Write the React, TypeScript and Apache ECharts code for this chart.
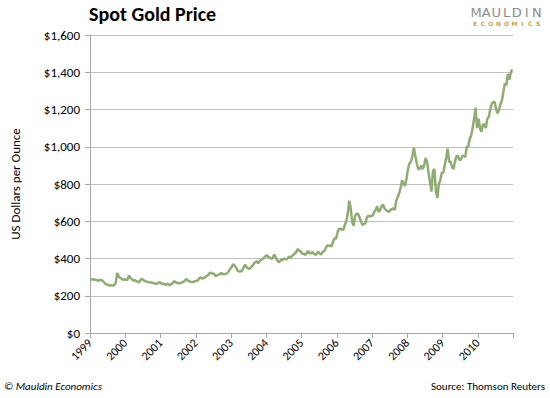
import React, { useEffect, useRef } from "react";
import * as echarts from "echarts";

const startYear = 1999;
const endYear = 2011;
const yTicks = [0, 200, 400, 600, 800, 1000, 1200, 1400, 1600];
// Semi-monthly spot gold prices (USD/oz)
const prices1999 = [288, 287, 289, 286, 285, 281, 283, 286, 280, 273, 263, 261, 257, 255, 257, 254, 258, 268, 322, 305, 296, 292, 285, 289];
const prices2000 = [286, 285, 310, 296, 289, 281, 284, 278, 276, 272, 286, 290, 283, 279, 276, 274, 273, 271, 270, 266, 266, 265, 270, 272];
const prices2001 = [266, 264, 262, 258, 265, 260, 258, 262, 270, 278, 271, 270, 267, 267, 272, 274, 281, 290, 283, 278, 275, 273, 275, 278];
const prices2002 = [280, 283, 295, 298, 292, 295, 302, 306, 312, 322, 323, 318, 318, 305, 310, 312, 318, 322, 316, 315, 318, 320, 332, 345];
const prices2003 = [356, 370, 360, 352, 335, 330, 330, 335, 350, 366, 355, 347, 345, 352, 360, 372, 380, 385, 375, 385, 392, 398, 405, 413];
const prices2004 = [418, 405, 406, 398, 405, 422, 405, 390, 380, 387, 393, 395, 400, 395, 400, 410, 405, 413, 420, 428, 435, 452, 440, 440];
const prices2005 = [425, 425, 420, 428, 440, 428, 428, 435, 425, 420, 428, 437, 425, 422, 437, 440, 455, 470, 470, 470, 465, 490, 510, 505];
const prices2006 = [540, 560, 560, 555, 555, 580, 600, 640, 710, 670, 595, 575, 630, 640, 640, 620, 600, 580, 585, 590, 620, 630, 625, 630];
const prices2007 = [630, 650, 662, 680, 650, 660, 680, 690, 670, 660, 655, 650, 660, 665, 670, 660, 710, 730, 750, 780, 820, 800, 790, 830];
const prices2008 = [880, 910, 920, 950, 995, 950, 910, 880, 880, 900, 880, 900, 940, 920, 860, 810, 760, 870, 880, 760, 725, 800, 820, 860];
const prices2009 = [860, 900, 940, 990, 920, 920, 890, 880, 920, 950, 950, 930, 930, 950, 950, 945, 1000, 1000, 1040, 1060, 1100, 1150, 1210, 1100];
const prices2010 = [1150, 1100, 1080, 1120, 1120, 1100, 1150, 1160, 1200, 1230, 1240, 1240, 1200, 1180, 1200, 1230, 1250, 1300, 1340, 1330, 1390, 1360, 1400, 1415];

const allPrices = [
  ...prices1999, ...prices2000, ...prices2001, ...prices2002, ...prices2003, ...prices2004,
  ...prices2005, ...prices2006, ...prices2007, ...prices2008, ...prices2009, ...prices2010,
];

const logoTop = "MAULDIN";
const logoBottom = "ECONOMICS";

export default function App() {
  const ref = useRef<HTMLDivElement>(null);
  useEffect(() => {
    if (!ref.current) return;
    const chart = echarts.init(ref.current, undefined, { renderer: "svg" });
    const data = allPrices.map((v, i) => [startYear + i / 24 + 1 / 48, v]);
    data.unshift([startYear, allPrices[0]]);
    const font = "Carlito, 'Open Sans', 'Liberation Sans', sans-serif";
    const logoLeft = 471;
    const logoWidth = 71;
    const topLetters = logoTop.split("").map((ch, i) => ({
      type: "text",
      x: logoLeft + (logoWidth * (i + 0.5)) / logoTop.length,
      y: 6,
      style: { text: ch, font: `13px 'DejaVu Sans', sans-serif`, fill: "#8c8c8c", textAlign: "center" },
    }));
    const bottomLetters = logoBottom.split("").map((ch, i) => ({
      type: "text",
      x: logoLeft + (logoWidth * (i + 0.5)) / logoBottom.length,
      y: 20,
      style: { text: ch, font: `bold 6px 'DejaVu Sans', sans-serif`, fill: "#c9a23a", textAlign: "center" },
    }));
    chart.setOption({
      animation: false,
      backgroundColor: "#ffffff",
      grid: { left: 90, right: 37, top: 35, bottom: 65, containLabel: false },
      graphic: [
        { type: "text", left: 89, top: 4, style: { text: "Spot Gold Price", font: `bold 20px ${font}`, fill: "#000" } },
        ...topLetters,
        ...bottomLetters,
        { type: "text", left: 4, top: 381, style: { text: "© Mauldin Economics", font: `italic 11px ${font}`, fill: "#000" } },
        { type: "text", right: 5, top: 381, style: { text: "Source: Thomson Reuters", font: `11px ${font}`, fill: "#000" } },
      ],
      xAxis: {
        type: "value",
        min: startYear,
        max: endYear,
        interval: 1,
        axisLine: { show: true, lineStyle: { color: "#a6a6a6" } },
        axisTick: { show: true, length: 5, lineStyle: { color: "#a6a6a6" } },
        splitLine: { show: false },
        axisLabel: {
          rotate: 45,
          fontSize: 12,
          fontFamily: font,
          color: "#000",
          margin: 8,
          formatter: (v: number) => (v >= endYear ? "" : String(v)),
        },
      },
      yAxis: {
        type: "value",
        min: yTicks[0],
        max: yTicks[yTicks.length - 1],
        interval: 200,
        name: "US Dollars per Ounce",
        nameLocation: "middle",
        nameGap: 68,
        nameTextStyle: { fontSize: 13, fontFamily: font, color: "#000" },
        axisLine: { show: true, lineStyle: { color: "#a6a6a6" } },
        axisTick: { show: true, length: 5, lineStyle: { color: "#a6a6a6" } },
        splitLine: { show: true, lineStyle: { color: "#bfbfbf", width: 1 } },
        axisLabel: {
          fontSize: 13,
          fontFamily: font,
          color: "#000",
          margin: 10,
          formatter: (v: number) => "$" + v.toLocaleString("en-US"),
        },
      },
      series: [
        {
          type: "line",
          data,
          showSymbol: false,
          symbol: "none",
          lineStyle: { color: "#8fac72", width: 2.5 },
        },
      ],
    });
    return () => chart.dispose();
  }, []);
  return <div ref={ref} style={{ width: 550, height: 398, position: "absolute", left: 0, top: 0 }} />;
}
